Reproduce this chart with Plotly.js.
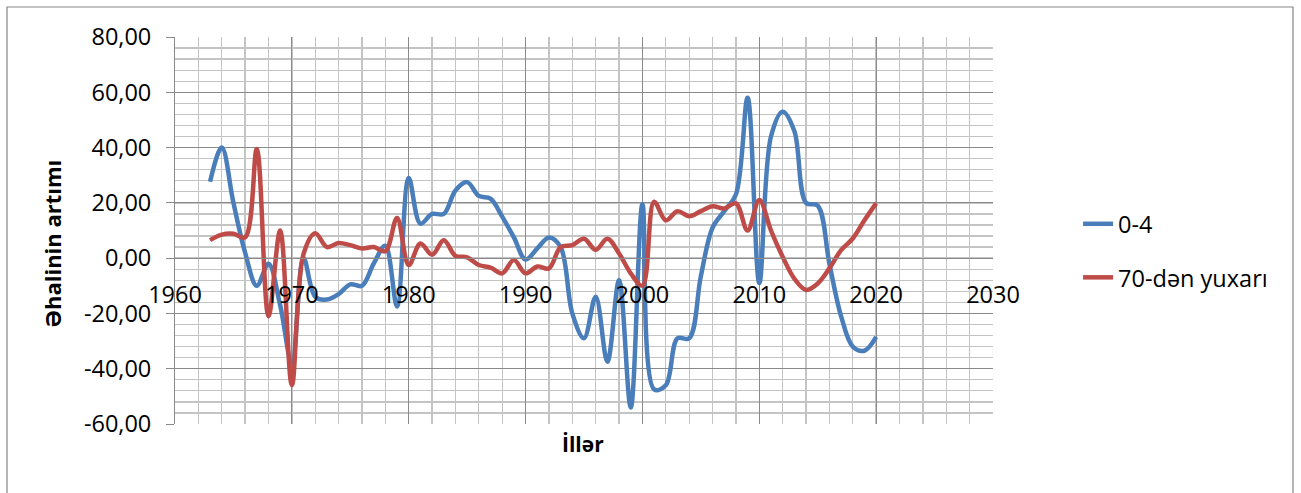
<!DOCTYPE html>
<html>
<head>
<meta charset="utf-8">
<script src="https://cdn.plot.ly/plotly-3.0.1.min.js"></script>
<style>
  html, body { margin: 0; padding: 0; background: #ffffff; }
  #chart { width: 1301px; height: 493px; }
</style>
</head>
<body>
<div id="chart"></div>
<script>
// Annual population growth by age group
const years = [
  1963, 1964, 1965, 1966, 1967, 1968, 1969, 1970, 1971, 1972,
  1973, 1974, 1975, 1976, 1977, 1978, 1979, 1980, 1981, 1982,
  1983, 1984, 1985, 1986, 1987, 1988, 1989, 1990, 1991, 1992,
  1993, 1994, 1995, 1996, 1997, 1998, 1999, 2000, 2001, 2002,
  2003, 2004, 2005, 2006, 2007, 2008, 2009, 2010, 2011, 2012,
  2013, 2014, 2015, 2016, 2017, 2018, 2019, 2020
];

const seriesNames = ["0-4", "70-dən yuxarı"];

const age0to4 = [
  27.6, 40.0, 20.0, 2.0, -10.0, -2.0, -17.0, -38.0, 0.0, -14.0,
  -15.0, -13.0, -9.5, -10.0, -2.0, 4.5, -17.5, 29.0, 12.5, 16.0,
  16.0, 24.5, 27.5, 22.5, 21.5, 15.0, 7.5, -0.5, 3.5, 7.5,
  4.0, -20.0, -29.0, -14.0, -37.5, -8.0, -54.0, 19.5, -47.5, -46.0,
  -29.0, -29.0, -6.5, 11.0, 17.0, 23.0, 58.0, -9.0, 44.0, 53.0,
  46.0, 20.0, 19.0, -2.0, -21.0, -32.0, -33.5, -28.5
];

const age70plus = [
  6.5, 8.5, 8.8, 7.5, 39.5, -21.0, 10.0, -46.0, 1.5, 9.0,
  4.0, 5.5, 4.7, 3.5, 4.0, 2.5, 14.5, -2.5, 5.3, 1.2,
  6.5, 0.8, 0.3, -2.5, -3.4, -5.5, -0.7, -5.5, -3.0, -3.7,
  4.0, 4.7, 7.0, 3.0, 7.0, 1.7, -5.5, -10.0, 20.4, 13.7,
  17.0, 15.2, 17.0, 18.8, 18.0, 19.8, 10.0, 21.0, 10.0, 0.5,
  -7.4, -11.5, -9.2, -3.7, 2.9, 7.1, 13.7, 19.8
];

const yTickValues = [-60, -40, -20, 0, 20, 40, 60, 80];
const yTickLabels = ["-60,00", "-40,00", "-20,00", "0,00", "20,00", "40,00", "60,00", "80,00"];
const xTickValues = [1960, 1970, 1980, 1990, 2000, 2010, 2020, 2030];
const xTickLabels = ["1960", "1970", "1980", "1990", "2000", "2010", "2020", "2030"];

const yTitle = "Əhalinin artımı";
const xTitle = "İllər";

const xRange = [1960, 2030];
const yRange = [-60, 80];

const FONT = "'Open Sans', 'Noto Sans', sans-serif";
const MAJOR_GRID = "#8a8a8a";
const MINOR_GRID = "#c4c4c4";

const traces = [
  {
    x: years, y: age0to4, name: seriesNames[0], type: "scatter", mode: "lines",
    line: { color: "#4a7ebb", width: 4.5, shape: "spline", smoothing: 1 },
    legendgroup: "a", hoverinfo: "x+y"
  },
  {
    x: years, y: age70plus, name: seriesNames[1], type: "scatter", mode: "lines",
    line: { color: "#be4b48", width: 4.5, shape: "spline", smoothing: 1 },
    legendgroup: "b", hoverinfo: "x+y"
  }
];

// horizontal axis crosses the value axis at zero
const zeroPos = (0 - yRange[0]) / (yRange[1] - yRange[0]);

const layout = {
  width: 1301,
  height: 493,
  margin: { l: 175, r: 308, t: 37, b: 69, pad: 0 },
  paper_bgcolor: "#ffffff",
  plot_bgcolor: "#ffffff",
  font: { family: FONT, color: "#000000", size: 23.5 },
  showlegend: true,
  legend: {
    x: 1.104, xanchor: "left",
    y: 0.447, yanchor: "middle",
    traceorder: "grouped",
    tracegroupgap: 20,
    font: { family: FONT, size: 23.5, color: "#000000" },
    bgcolor: "rgba(0,0,0,0)",
    borderwidth: 0
  },
  xaxis: {
    range: xRange,
    anchor: "free",
    position: zeroPos,
    tickmode: "array",
    tickvals: xTickValues,
    ticktext: xTickLabels,
    ticks: "",
    ticklabelstandoff: 16,
    tickfont: { family: FONT, size: 23.5, color: "#000000" },
    showgrid: true,
    gridcolor: MAJOR_GRID,
    gridwidth: 1,
    minor: { dtick: 2, tick0: 1960, showgrid: true, gridcolor: MINOR_GRID, gridwidth: 1.3, ticks: "" },
    showline: true,
    linecolor: MAJOR_GRID,
    linewidth: 1,
    zeroline: false,
    fixedrange: true
  },
  yaxis: {
    range: yRange,
    tickmode: "array",
    tickvals: yTickValues,
    ticktext: yTickLabels,
    ticks: "outside",
    ticklen: 8,
    tickcolor: MAJOR_GRID,
    tickwidth: 1,
    ticklabelstandoff: 10,
    tickfont: { family: FONT, size: 23.5, color: "#000000" },
    showgrid: true,
    gridcolor: MAJOR_GRID,
    gridwidth: 1,
    minor: { dtick: 4, tick0: -60, showgrid: true, gridcolor: MINOR_GRID, gridwidth: 1.3, ticks: "" },
    showline: true,
    linecolor: MAJOR_GRID,
    linewidth: 1,
    zeroline: false,
    fixedrange: true
  },
  annotations: [
    {
      text: yTitle, xref: "paper", yref: "paper",
      x: -0.1504, y: 0.465, xanchor: "center", yanchor: "middle",
      textangle: -90, showarrow: false,
      font: { family: FONT, size: 22, color: "#000000", weight: "bold" }
    },
    {
      text: xTitle, xref: "paper", yref: "paper",
      x: 0.4988, y: -0.052, xanchor: "center", yanchor: "middle",
      showarrow: false,
      font: { family: FONT, size: 21, color: "#000000", weight: "bold" }
    }
  ],
  shapes: [
    {
      // chart frame
      type: "rect", xref: "paper", yref: "paper",
      x0: (7 - 175) / 818, x1: (1293 - 175) / 818,
      y0: (424 - 520) / 387, y1: (424 - 7) / 387,
      line: { color: "#868686", width: 1.2 },
      fillcolor: "rgba(0,0,0,0)",
      layer: "below"
    }
  ]
};

Plotly.newPlot("chart", traces, layout, { staticPlot: true, displayModeBar: false });
</script>
</body>
</html>
